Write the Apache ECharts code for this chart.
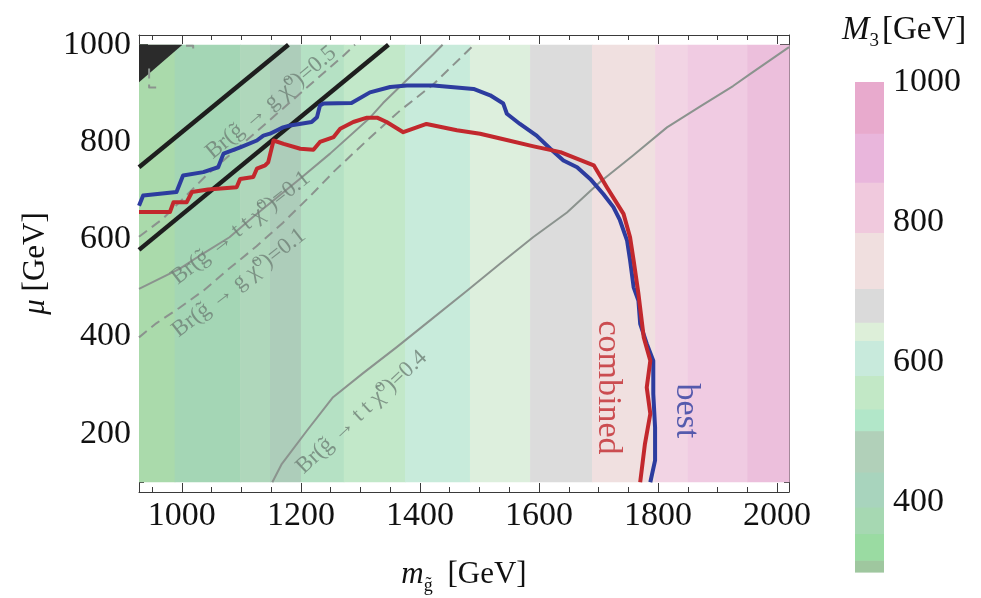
<!DOCTYPE html>
<html><head><meta charset="utf-8">
<script src="https://cdn.jsdelivr.net/npm/echarts@6/dist/echarts.min.js"></script>
<style>html,body{margin:0;padding:0;background:#fff}#c{width:981px;height:598px}</style>
</head><body><div id="c"></div>
<script>
// ---------- data ----------
const xMajorTicks = [1000, 1200, 1400, 1600, 1800, 2000];
const xMinorTicks = [950, 1050, 1100, 1150, 1250, 1300, 1350, 1450, 1500, 1550, 1650, 1700, 1750, 1850, 1900, 1950];
const yMajorTicks = [200, 400, 600, 800, 1000];
const yMinorTicks = [100, 150, 250, 300, 350, 450, 500, 550, 650, 700, 750, 850, 900, 950];
const cbTicks = [400, 600, 800, 1000];

const muMin = 100, muMax = 1000;

// M3 background bands along m_gluino
const bandEdges = [928, 988, 1098, 1148, 1200, 1272, 1375, 1484, 1585, 1689, 1795, 1850, 1950, 2020];
const bandColors = ['#aadaab', '#a4d6b5', '#afd7bb', '#adcdba', '#b5e1c4', '#c2e8c9', '#c8ebdb',
                    '#ddefdd', '#dcdcdc', '#f0e0e0', '#f2d4e4', '#f0cbe2', '#ecbfdc'];

// colour bar levels (M3 in GeV)
const cbEdges = [300, 317, 355, 393, 443, 502, 533, 581, 631, 657, 705, 785, 857, 927, 1000];
const cbColors = ['#9fc79f', '#9adba2', '#a6d8b2', '#a8d4bd', '#b1d0b9', '#b2e7c9', '#c2e8c6',
                  '#c8eadc', '#ddefd9', '#dadada', '#f0dfdf', '#f0c9dd', '#e9b6dc', '#e8aacd'];

// "best" exclusion (blue)
const bestM  = [928, 935, 991, 1002, 1036, 1061, 1070, 1098, 1126, 1137, 1148, 1170, 1182, 1218, 1227, 1232, 1238, 1285, 1316, 1350, 1378, 1423, 1490, 1518, 1540, 1546, 1568, 1596, 1619, 1641, 1664, 1686, 1708, 1725, 1736, 1748, 1753, 1759, 1767, 1770, 1781, 1792, 1792, 1795, 1795, 1787];
const bestMu = [669, 690, 697, 731, 738, 748, 776, 789, 803, 813, 817, 830, 834, 841, 851, 875, 879, 880, 902, 913, 916, 916, 909, 896, 879, 858, 837, 813, 786, 762, 748, 724, 693, 666, 639, 597, 557, 501, 474, 426, 385, 350, 282, 213, 145, 100];

// "combined" exclusion (red)
const combM  = [928, 980, 986, 1008, 1017, 1044, 1092, 1098, 1120, 1126, 1140, 1145, 1154, 1171, 1199, 1221, 1232, 1255, 1266, 1288, 1311, 1328, 1344, 1372, 1411, 1462, 1501, 1535, 1591, 1636, 1692, 1714, 1742, 1753, 1759, 1767, 1776, 1787, 1781, 1787, 1778, 1770];
const combMu = [656, 656, 676, 676, 697, 702, 707, 724, 728, 745, 752, 758, 803, 796, 786, 784, 800, 810, 827, 841, 850, 850, 841, 820, 837, 824, 817, 807, 791, 779, 752, 707, 652, 604, 556, 488, 398, 350, 295, 241, 179, 100];

// black diagonal lines
const black1M = [928, 1179], black1Mu = [748, 1000];
const black2M = [928, 1347], black2Mu = [578, 1000];
// dark excluded corner
const darkM = [928, 1001, 928], darkMu = [1000, 1000, 923];

// Br(g -> t t chi0) = 0.1 (solid grey)
const tt01M  = [928, 945, 973, 996, 1035, 1080, 1119, 1147, 1181, 1199, 1249, 1316, 1338, 1422, 1438];
const tt01Mu = [498, 508, 525, 539, 570, 604, 645, 673, 707, 725, 776, 850, 880, 980, 1000];
// Br(g -> g chi0) = 0.1 (dashed grey)
const gc01M  = [928, 957, 995, 1036, 1079, 1125, 1170, 1215, 1257, 1311, 1367, 1422, 1491];
const gc01Mu = [398, 427, 458, 494, 539, 585, 634, 688, 741, 803, 865, 918, 1000];
// Br(g -> g chi0) = 0.5 (dashed grey)
const gc05M  = [928, 968, 1041, 1271, 1291];
const gc05Mu = [605, 642, 731, 977, 1000];
const gc05bM  = [945, 945, 963, null, 1007, 1019, 1019];
const gc05bMu = [951, 912, 912, null, 998, 998, 988];
// Br(g -> t t chi0) = 0.4 (solid grey)
const tt04M  = [1152, 1168, 1210, 1254, 1304, 1361, 1417, 1479, 1535, 1590, 1647, 1703, 1758, 1815, 1871, 1926, 1955, 2020];
const tt04Mu = [100, 138, 206, 275, 324, 378, 433, 494, 550, 604, 655, 718, 772, 830, 873, 915, 940, 995];

// contour labels
const contourText = ['Br(g\u0303 \u2192 g \u03c7\u0303\u2070)=0.5', 'Br(g\u0303 \u2192 t t \u03c7\u0303\u2070)=0.1',
                     'Br(g\u0303 \u2192 g \u03c7\u0303\u2070)=0.1', 'Br(g\u0303 \u2192 t t \u03c7\u0303\u2070)=0.4'];
const contourM  = [1150, 1099, 1096, 1302];
const contourMu = [881, 623, 510, 244];
const contourAngle = [40, 38, 38, 43];

const curveText = ['best', 'combined'];
const curveM = [1846, 1716];
const curveMu = [247, 295];

// ---------- helpers ----------
const zip = (a, b) => a.map((v, i) => (v === null ? null : [v, b[i]]));
const SERIF = '"Liberation Serif", "Times New Roman", "DejaVu Serif", serif';
const AX = '#3a3a3a';
const plain = v => String(v);

const bandData = bandColors.map((c, i) => [bandEdges[i], bandEdges[i + 1]]);
const cbData = cbColors.map((c, i) => [cbEdges[i], cbEdges[i + 1]]);

function lineSeries(name, data, color, width, dashed, z) {
  return {
    name, type: 'line', data, xAxisIndex: 0, yAxisIndex: 0, symbol: 'none', z,
    connectNulls: false, clip: true, animation: false, silent: true,
    lineStyle: { color, width, type: dashed ? [10, 6] : 'solid', cap: 'butt', join: 'round' }
  };
}

const chart = echarts.init(document.getElementById('c'), null, { renderer: 'canvas' });

const baseX = { gridIndex: 0, type: 'value', min: 928, max: 2020, splitLine: { show: false } };
const baseY = { gridIndex: 0, type: 'value', min: 80, max: 1020, splitLine: { show: false } };

const option = {
  animation: false,
  backgroundColor: '#ffffff',
  title: {
    text: '{i|M}{s|3}[GeV]', left: 837, top: 4,
    textStyle: {
      fontFamily: SERIF, fontSize: 33, fontWeight: 'normal', color: '#111', lineHeight: 42,
      rich: {
        i: { fontFamily: SERIF, fontStyle: 'italic', fontSize: 33, color: '#111', lineHeight: 42 },
        s: { fontFamily: SERIF, fontSize: 19, color: '#111', verticalAlign: 'bottom', lineHeight: 19, padding: [0, 3, 0, 0] }
      }
    }
  },
  grid: [
    { left: 139, top: 35, width: 650, height: 457, containLabel: false, outerBoundsMode: 'none' },
    { left: 855, top: 82, width: 29, height: 490, containLabel: false, outerBoundsMode: 'none' }
  ],
  xAxis: [
    Object.assign({}, baseX, {
      position: 'bottom',
      axisLine: { show: true, onZero: false, lineStyle: { color: AX, width: 1 } },
      axisTick: { show: true, inside: true, length: 9, customValues: xMajorTicks, lineStyle: { color: AX } },
      axisLabel: { customValues: xMajorTicks, formatter: plain, fontFamily: SERIF, fontSize: 34, color: '#111', margin: 7 },
      name: '{i|m}{s|g\u0303} [GeV]', nameLocation: 'middle', nameGap: 63,
      nameTextStyle: {
        fontFamily: SERIF, fontSize: 31, color: '#111', lineHeight: 40,
        rich: {
          i: { fontFamily: SERIF, fontStyle: 'italic', fontSize: 31, color: '#111', lineHeight: 40 },
          s: { fontFamily: SERIF, fontSize: 18, color: '#111', verticalAlign: 'bottom', lineHeight: 18, padding: [0, 7, 0, 0] }
        }
      }
    }),
    Object.assign({}, baseX, {
      position: 'bottom', axisLine: { show: false, onZero: false },
      axisTick: { show: true, inside: true, length: 5, customValues: xMinorTicks, lineStyle: { color: AX } },
      axisLabel: { show: false }
    }),
    Object.assign({}, baseX, {
      position: 'top', axisLine: { show: true, onZero: false, lineStyle: { color: AX, width: 1 } },
      axisTick: { show: true, inside: true, length: 9, customValues: xMajorTicks, lineStyle: { color: AX } },
      axisLabel: { show: false }
    }),
    Object.assign({}, baseX, {
      position: 'top', axisLine: { show: false, onZero: false },
      axisTick: { show: true, inside: true, length: 5, customValues: xMinorTicks, lineStyle: { color: AX } },
      axisLabel: { show: false }
    }),
    { gridIndex: 1, type: 'value', min: 0, max: 1, show: false }
  ],
  yAxis: [
    Object.assign({}, baseY, {
      position: 'left',
      axisLine: { show: true, onZero: false, lineStyle: { color: AX, width: 1 } },
      axisTick: { show: true, inside: true, length: 9, customValues: yMajorTicks, lineStyle: { color: AX } },
      axisLabel: { customValues: yMajorTicks, formatter: plain, fontFamily: SERIF, fontSize: 34, color: '#111', margin: 8 },
      name: '{i|\u03bc} [GeV]', nameLocation: 'middle', nameRotate: 90, nameGap: 88,
      nameTextStyle: {
        fontFamily: SERIF, fontSize: 31, color: '#111',
        rich: { i: { fontFamily: SERIF, fontStyle: 'italic', fontSize: 31, color: '#111' } }
      }
    }),
    Object.assign({}, baseY, {
      position: 'left', axisLine: { show: false, onZero: false },
      axisTick: { show: true, inside: true, length: 5, customValues: yMinorTicks, lineStyle: { color: AX } },
      axisLabel: { show: false }
    }),
    Object.assign({}, baseY, {
      position: 'right', axisLine: { show: true, onZero: false, lineStyle: { color: AX, width: 1 } },
      axisTick: { show: true, inside: true, length: 9, customValues: yMajorTicks, lineStyle: { color: AX } },
      axisLabel: { show: false }
    }),
    Object.assign({}, baseY, {
      position: 'right', axisLine: { show: false, onZero: false },
      axisTick: { show: true, inside: true, length: 5, customValues: yMinorTicks, lineStyle: { color: AX } },
      axisLabel: { show: false }
    }),
    {
      gridIndex: 1, type: 'value', min: 300, max: 1000, position: 'right', splitLine: { show: false },
      axisLine: { show: false },
      axisTick: { show: true, inside: false, length: 8, customValues: cbTicks, lineStyle: { color: '#999' } },
      axisLabel: { customValues: cbTicks, formatter: plain, fontFamily: SERIF, fontSize: 34, color: '#111', margin: 9 }
    }
  ],
  series: [
    {
      name: 'bands', type: 'custom', xAxisIndex: 0, yAxisIndex: 0, z: 1, silent: true,
      data: bandData, encode: { x: [0, 1] }, clip: false,
      renderItem: function (params, api) {
        const p1 = api.coord([api.value(0), muMax]);
        const p2 = api.coord([api.value(1), muMin]);
        return { type: 'rect', shape: { x: p1[0], y: p1[1], width: p2[0] - p1[0] + 0.6, height: p2[1] - p1[1] },
                 style: { fill: bandColors[params.dataIndex] } };
      }
    },
    {
      name: 'dark', type: 'custom', xAxisIndex: 0, yAxisIndex: 0, z: 2, silent: true,
      data: [[darkM[0], darkMu[0]]],
      renderItem: function (params, api) {
        const pts = darkM.map((m, i) => api.coord([m, darkMu[i]]));
        return { type: 'polygon', shape: { points: pts }, style: { fill: '#2b2b2b' } };
      }
    },
    lineSeries('tt01', zip(tt01M, tt01Mu), '#8b938e', 2, false, 3),
    lineSeries('gc01', zip(gc01M, gc01Mu), '#8b938e', 2, true, 3),
    lineSeries('gc05', zip(gc05M, gc05Mu), '#8b938e', 2, true, 3),
    lineSeries('gc05b', zip(gc05bM, gc05bMu), '#8b938e', 2, true, 3),
    lineSeries('tt04', zip(tt04M, tt04Mu), '#8b938e', 2, false, 3),
    lineSeries('black1', zip(black1M, black1Mu), '#1e1e1e', 4.5, false, 4),
    lineSeries('black2', zip(black2M, black2Mu), '#1e1e1e', 4.5, false, 4),
    lineSeries('best', zip(bestM, bestMu), '#2d3c9f', 4, false, 5),
    lineSeries('combined', zip(combM, combMu), '#c2282d', 4, false, 6),
    {
      name: 'contourLabels', type: 'scatter', xAxisIndex: 0, yAxisIndex: 0, z: 7, silent: true,
      symbolSize: 1, itemStyle: { color: 'rgba(0,0,0,0)' },
      data: contourText.map((t, i) => ({
        value: [contourM[i], contourMu[i]],
        label: { show: true, formatter: t, rotate: contourAngle[i], position: 'inside',
                 fontFamily: SERIF, fontSize: 23, color: '#6f8177' }
      }))
    },
    {
      name: 'curveLabels', type: 'scatter', xAxisIndex: 0, yAxisIndex: 0, z: 7, silent: true,
      symbolSize: 1, itemStyle: { color: 'rgba(0,0,0,0)' },
      data: curveText.map((t, i) => ({
        value: [curveM[i], curveMu[i]],
        label: { show: true, formatter: t, rotate: -90, position: 'inside',
                 fontFamily: SERIF, fontSize: 34, color: i === 0 ? '#2d3c9f' : '#c2282d' }
      }))
    },
    {
      name: 'colorbar', type: 'custom', xAxisIndex: 4, yAxisIndex: 4, z: 1, silent: true,
      data: cbData, encode: { y: [0, 1] }, clip: false,
      renderItem: function (params, api) {
        const p1 = api.coord([0, api.value(1)]);
        const p2 = api.coord([1, api.value(0)]);
        return { type: 'rect', shape: { x: p1[0], y: p1[1], width: p2[0] - p1[0], height: p2[1] - p1[1] + 0.6 },
                 style: { fill: cbColors[params.dataIndex] } };
      }
    }
  ]
};
chart.setOption(option);
</script></body></html>
